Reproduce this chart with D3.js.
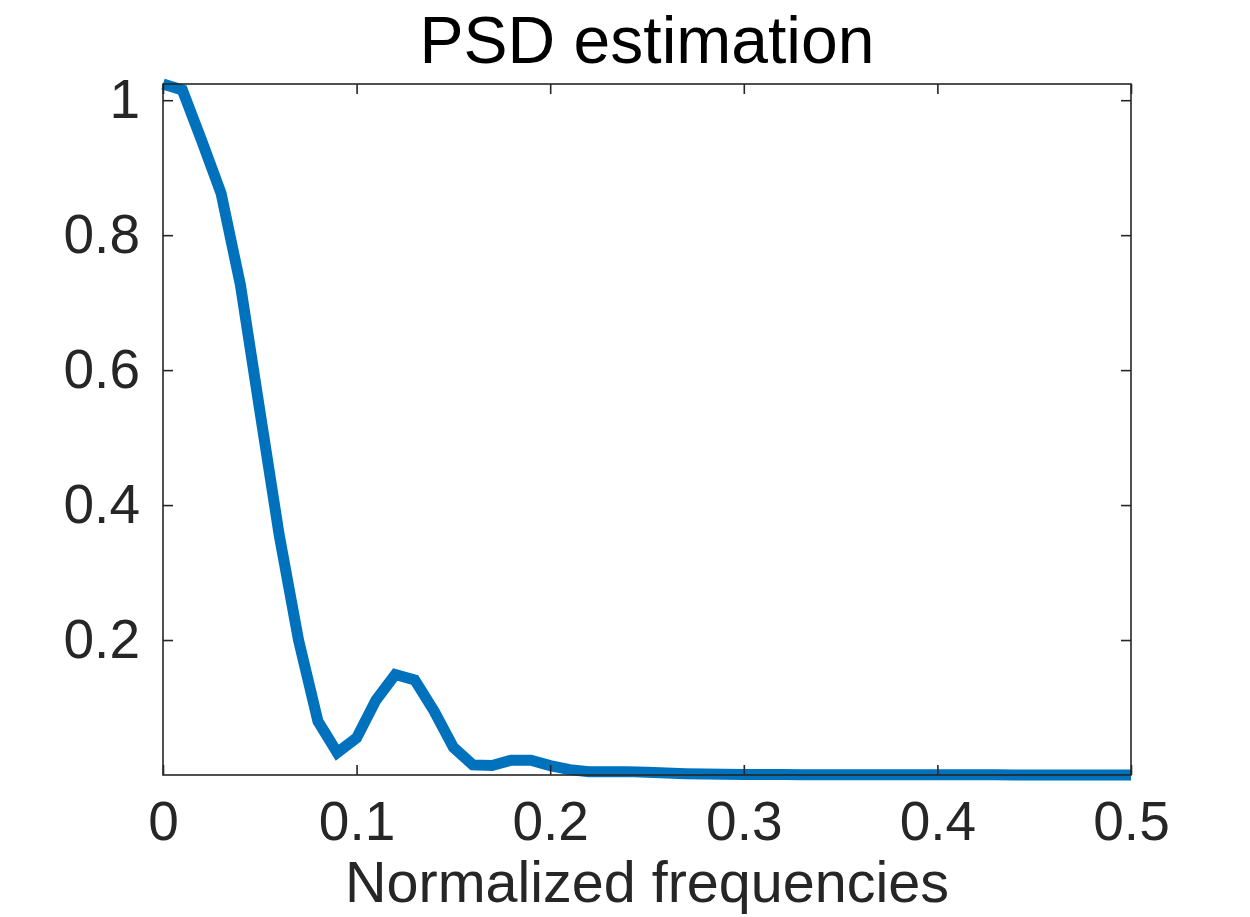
<!DOCTYPE html>
<html>
<head>
<meta charset="utf-8">
<script src="https://cdn.jsdelivr.net/npm/d3@7"></script>
<style>
  body { margin: 0; background: #fff; }
  svg { display: block; font-family: "Liberation Sans", Arial, Helvetica, sans-serif; }
</style>
</head>
<body>
<div id="wrapper"></div>
<script>
// PSD estimate, frequency step 0.01
const frequencies = d3.range(51).map(i => i / 100);
const psdValues = [
  1.024, 1.015, 0.940, 0.862, 0.726, 0.540, 0.356, 0.200, 0.080, 0.033,
  0.055, 0.111, 0.149, 0.141, 0.095, 0.041, 0.015, 0.014, 0.022, 0.022,
  0.014, 0.008, 0.005, 0.005, 0.005, 0.004, 0.003, 0.002, 0.0015, 0.001,
  0.0008, 0.0007, 0.0006, 0.0005, 0.0005, 0.0004, 0.0004, 0.0003, 0.0003, 0.0003,
  0.0002, 0.0002, 0.0002, 0.0002, 0.0001, 0.0001, 0.0001, 0.0001, 0.0001, 0.0001,
  0.0001
];
const xTicks = [0, 0.1, 0.2, 0.3, 0.4, 0.5];
const yTicks = [0.2, 0.4, 0.6, 0.8, 1];

const dataset = frequencies.map((f, i) => ({ f: f, p: psdValues[i] }));
const xAccessor = d => d.f;
const yAccessor = d => d.p;

let dimensions = {
  width: 1250,
  height: 917,
  margin: { top: 84, right: 119, bottom: 142, left: 163 },
};
dimensions.boundedWidth = dimensions.width - dimensions.margin.left - dimensions.margin.right;
dimensions.boundedHeight = dimensions.height - dimensions.margin.top - dimensions.margin.bottom;

const axisColor = "#262626";

const wrapper = d3.select("#wrapper")
  .append("svg")
  .attr("width", dimensions.width)
  .attr("height", dimensions.height);

const bounds = wrapper.append("g")
  .attr("transform", `translate(${dimensions.margin.left}, ${dimensions.margin.top})`);

const xScale = d3.scaleLinear()
  .domain([0, 0.5])
  .range([0, dimensions.boundedWidth]);

const yScale = d3.scaleLinear()
  .domain([0, d3.max(dataset, yAccessor)])
  .range([dimensions.boundedHeight, 0]);

// line first, axes box on top
const lineGenerator = d3.line()
  .x(d => xScale(xAccessor(d)))
  .y(d => yScale(yAccessor(d)));

bounds.append("path")
  .datum(dataset)
  .attr("d", lineGenerator)
  .attr("fill", "none")
  .attr("stroke", "#0072BD")
  .attr("stroke-width", 11)
  .attr("stroke-linejoin", "miter")
  .attr("stroke-linecap", "butt");

// box
bounds.append("rect")
  .attr("width", dimensions.boundedWidth)
  .attr("height", dimensions.boundedHeight)
  .attr("fill", "none")
  .attr("stroke", axisColor)
  .attr("stroke-width", 1.6);

const tickLen = 10;
const fmt = d => d === 0 ? "0" : String(d);

// x axis bottom + mirrored top ticks
const xAxis = bounds.append("g")
  .attr("transform", `translate(0, ${dimensions.boundedHeight})`)
  .call(d3.axisBottom(xScale).tickValues(xTicks).tickSize(-tickLen).tickPadding(26).tickFormat(fmt));
const xAxisTop = bounds.append("g")
  .call(d3.axisTop(xScale).tickValues(xTicks).tickSize(-tickLen).tickFormat(""));

const yAxis = bounds.append("g")
  .call(d3.axisLeft(yScale).tickValues(yTicks).tickSize(-tickLen).tickPadding(23).tickFormat(fmt));
const yAxisRight = bounds.append("g")
  .attr("transform", `translate(${dimensions.boundedWidth}, 0)`)
  .call(d3.axisRight(yScale).tickValues(yTicks).tickSize(-tickLen).tickFormat(""));

[xAxis, xAxisTop, yAxis, yAxisRight].forEach(a => {
  a.select(".domain").remove();
  a.selectAll(".tick line").attr("stroke", axisColor).attr("stroke-width", 1.6);
  a.selectAll(".tick text")
    .attr("fill", axisColor)
    .style("font-size", "55px")
    .style("font-family", "'Liberation Sans', Arial, sans-serif");
});
xAxis.selectAll(".tick text").attr("dy", "0.71em");

// labels
wrapper.append("text")
  .attr("x", dimensions.margin.left + dimensions.boundedWidth / 2)
  .attr("y", 63)
  .attr("text-anchor", "middle")
  .attr("fill", "#000")
  .style("font-size", "66px")
  .text("PSD estimation");

wrapper.append("text")
  .attr("x", dimensions.margin.left + dimensions.boundedWidth / 2)
  .attr("y", 902)
  .attr("text-anchor", "middle")
  .attr("fill", axisColor)
  .style("font-size", "57.5px")
  .text("Normalized frequencies");
</script>
</body>
</html>
